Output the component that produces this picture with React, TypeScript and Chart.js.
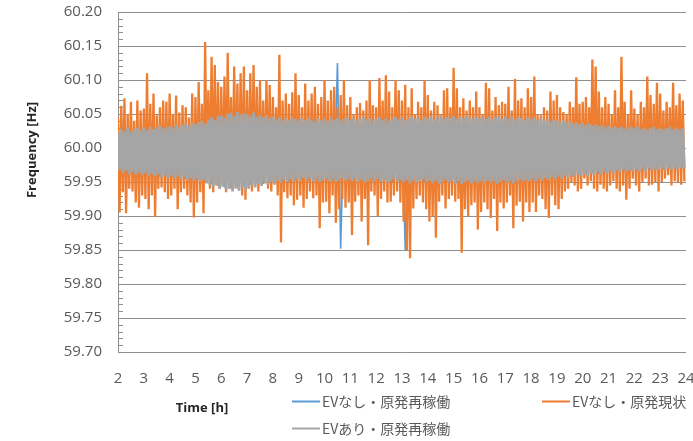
import React, { useEffect, useRef } from "react";
import { Chart, registerables } from "chart.js";

Chart.register(...registerables);

// ---- axis ranges / ticks ----
const X_MIN_H = 2;
const X_MAX_H = 24;
const X_TICK_STEP_H = 1;
const Y_MIN_HZ = 59.7;
const Y_MAX_HZ = 60.2;
const Y_TICK_STEP_HZ = 0.05;
const Y_MINOR_STEP_HZ = 0.01;

// ---- sampling of the read-off extremes ----
const ORANGE_STEP_H = 0.125; // one high + one low per step
const GRAY_STEP_H = 0.125;
const BLUE_STEP_H = 0.25;

// ---- series labels ----
const SERIES_LABELS = ["EVなし・原発再稼働", "EVなし・原発現状", "EVあり・原発再稼働"];
const SERIES_COLORS = ["#5B9BD5", "#ED7D31", "#A5A5A5"];

// ---- EVなし・原発現状 (orange) : local maxima / minima, 8 per hour from 2h ----
const orangeHigh = [
  60.045, 60.062, 60.073, 60.05, 60.068, 60.04, 60.07, 60.055,
  60.058, 60.11, 60.065, 60.08, 60.048, 60.06, 60.07, 60.068,
  60.08, 60.05, 60.077, 60.052, 60.063, 60.06, 60.045, 60.08,
  60.075, 60.097, 60.065, 60.156, 60.085, 60.134, 60.122, 60.097,
  60.09, 60.105, 60.14, 60.075, 60.12, 60.095, 60.11, 60.12,
  60.085, 60.11, 60.122, 60.09, 60.1, 60.07, 60.1, 60.093,
  60.075, 60.06, 60.137, 60.07, 60.08, 60.065, 60.082, 60.11,
  60.078, 60.06, 60.095, 60.07, 60.08, 60.09, 60.065, 60.075,
  60.1, 60.07, 60.085, 60.09, 60.06, 60.078, 60.1, 60.063,
  60.075, 60.05, 60.06, 60.066, 60.055, 60.07, 60.1, 60.063,
  60.06, 60.103, 60.07, 60.107, 60.083, 60.06, 60.1, 60.085,
  60.07, 60.093, 60.06, 60.088, 60.05, 60.068, 60.06, 60.1,
  60.078, 60.055, 60.068, 60.063, 60.05, 60.085, 60.088, 60.06,
  60.118, 60.088, 60.06, 60.073, 60.055, 60.07, 60.06, 60.083,
  60.06, 60.05, 60.096, 60.088, 60.055, 60.075, 60.063, 60.068,
  60.065, 60.09, 60.055, 60.102, 60.07, 60.073, 60.06, 60.088,
  60.075, 60.105, 60.05, 60.048, 60.06, 60.055, 60.083, 60.07,
  60.078, 60.06, 60.053, 60.05, 60.068, 60.06, 60.104, 60.065,
  60.068, 60.075, 60.06, 60.13, 60.12, 60.083, 60.06, 60.075,
  60.065, 60.05, 60.085, 60.06, 60.134, 60.068, 60.05, 60.085,
  60.058, 60.05, 60.068, 60.06, 60.105, 60.078, 60.065, 60.096,
  60.08, 60.055, 60.068, 60.06, 60.096, 60.063, 60.08, 60.07,
];
const orangeLow = [
  59.905, 59.935, 59.904, 59.94, 59.936, 59.92, 59.912, 59.93,
  59.925, 59.91, 59.93, 59.899, 59.94, 59.942, 59.935, 59.925,
  59.93, 59.94, 59.91, 59.935, 59.94, 59.93, 59.92, 59.898,
  59.92, 59.935, 59.904, 59.95, 59.94, 59.935, 59.945, 59.94,
  59.945, 59.935, 59.94, 59.945, 59.943, 59.94, 59.93, 59.924,
  59.94, 59.936, 59.945, 59.936, 59.95, 59.948, 59.94, 59.936,
  59.946, 59.93, 59.861, 59.935, 59.926, 59.93, 59.916, 59.924,
  59.93, 59.912, 59.925, 59.936, 59.926, 59.93, 59.882, 59.92,
  59.921, 59.904, 59.93, 59.89, 59.91, 59.925, 59.912, 59.92,
  59.872, 59.921, 59.93, 59.892, 59.925, 59.857, 59.936, 59.93,
  59.9, 59.925, 59.936, 59.92, 59.921, 59.93, 59.936, 59.92,
  59.892, 59.85, 59.838, 59.911, 59.925, 59.93, 59.92, 59.91,
  59.892, 59.9, 59.868, 59.921, 59.93, 59.911, 59.925, 59.93,
  59.921, 59.925, 59.846, 59.91, 59.9, 59.916, 59.92, 59.88,
  59.906, 59.92, 59.91, 59.897, 59.925, 59.878, 59.92, 59.911,
  59.92, 59.93, 59.882, 59.915, 59.921, 59.892, 59.92, 59.906,
  59.92, 59.906, 59.93, 59.925, 59.91, 59.897, 59.93, 59.916,
  59.91, 59.925, 59.936, 59.94, 59.95, 59.945, 59.936, 59.94,
  59.955, 59.945, 59.951, 59.94, 59.936, 59.946, 59.94, 59.936,
  59.945, 59.951, 59.94, 59.936, 59.945, 59.924, 59.94, 59.955,
  59.945, 59.936, 59.95, 59.955, 59.945, 59.946, 59.95, 59.936,
  59.95, 59.955, 59.96, 59.945, 59.951, 59.95, 59.946, 59.951,
];

// ---- EVあり・原発再稼働 (gray) : 8 per hour ----
const grayHigh = [
  60.022, 60.028, 60.025, 60.03, 60.024, 60.027, 60.03, 60.026,
  60.03, 60.026, 60.032, 60.028, 60.03, 60.033, 60.029, 60.031,
  60.032, 60.03, 60.035, 60.031, 60.034, 60.036, 60.033, 60.037,
  60.035, 60.038, 60.04, 60.036, 60.042, 60.045, 60.041, 60.047,
  60.048, 60.044, 60.05, 60.052, 60.047, 60.053, 60.049, 60.051,
  60.05, 60.047, 60.052, 60.046, 60.049, 60.045, 60.048, 60.044,
  60.046, 60.042, 60.045, 60.04, 60.044, 60.041, 60.045, 60.043,
  60.04, 60.044, 60.041, 60.045, 60.042, 60.039, 60.044, 60.041,
  60.043, 60.04, 60.045, 60.041, 60.044, 60.04, 60.043, 60.045,
  60.041, 60.044, 60.04, 60.043, 60.046, 60.042, 60.044, 60.04,
  60.043, 60.045, 60.041, 60.044, 60.04, 60.043, 60.046, 60.042,
  60.045, 60.041, 60.044, 60.047, 60.043, 60.045, 60.041, 60.046,
  60.044, 60.047, 60.042, 60.045, 60.048, 60.043, 60.046, 60.044,
  60.047, 60.043, 60.046, 60.044, 60.048, 60.045, 60.043, 60.046,
  60.044, 60.047, 60.043, 60.046, 60.042, 60.045, 60.047, 60.043,
  60.046, 60.043, 60.045, 60.042, 60.046, 60.044, 60.041, 60.045,
  60.043, 60.045, 60.041, 60.044, 60.04, 60.043, 60.039, 60.042,
  60.04, 60.038, 60.041, 60.037, 60.039, 60.036, 60.038, 60.035,
  60.037, 60.034, 60.036, 60.033, 60.035, 60.032, 60.034, 60.031,
  60.033, 60.03, 60.032, 60.029, 60.031, 60.028, 60.03, 60.032,
  60.029, 60.031, 60.028, 60.03, 60.027, 60.029, 60.031, 60.028,
  60.03, 60.027, 60.029, 60.031, 60.028, 60.03, 60.027, 60.029,
];
const grayLow = [
  59.968, 59.963, 59.966, 59.962, 59.965, 59.961, 59.964, 59.96,
  59.963, 59.959, 59.962, 59.958, 59.961, 59.957, 59.96, 59.956,
  59.959, 59.955, 59.958, 59.954, 59.957, 59.953, 59.956, 59.952,
  59.955, 59.951, 59.953, 59.948, 59.945, 59.942, 59.946, 59.94,
  59.943, 59.938, 59.941, 59.936, 59.94, 59.937, 59.942, 59.938,
  59.941, 59.945, 59.942, 59.947, 59.944, 59.949, 59.946, 59.95,
  59.948, 59.952, 59.949, 59.953, 59.95, 59.954, 59.951, 59.955,
  59.952, 59.956, 59.953, 59.955, 59.951, 59.954, 59.95, 59.953,
  59.955, 59.951, 59.954, 59.95, 59.953, 59.956, 59.952, 59.955,
  59.951, 59.954, 59.95, 59.953, 59.949, 59.952, 59.955, 59.951,
  59.954, 59.95, 59.953, 59.949, 59.952, 59.955, 59.951, 59.953,
  59.95, 59.953, 59.948, 59.952, 59.949, 59.951, 59.954, 59.95,
  59.952, 59.948, 59.951, 59.947, 59.95, 59.953, 59.949, 59.952,
  59.948, 59.951, 59.947, 59.95, 59.952, 59.948, 59.951, 59.949,
  59.951, 59.948, 59.952, 59.949, 59.951, 59.947, 59.95, 59.953,
  59.949, 59.952, 59.948, 59.951, 59.954, 59.95, 59.953, 59.951,
  59.954, 59.951, 59.955, 59.952, 59.956, 59.953, 59.957, 59.955,
  59.958, 59.955, 59.959, 59.956, 59.96, 59.958, 59.961, 59.959,
  59.962, 59.959, 59.963, 59.96, 59.964, 59.961, 59.965, 59.962,
  59.966, 59.963, 59.967, 59.964, 59.968, 59.965, 59.967, 59.966,
  59.968, 59.965, 59.969, 59.966, 59.97, 59.967, 59.969, 59.968,
  59.97, 59.967, 59.971, 59.968, 59.97, 59.969, 59.971, 59.97,
];

// ---- EVなし・原発再稼働 (blue) : 4 per hour ----
const blueHigh = [
  60.02, 60.025, 60.022, 60.026,
  60.028, 60.025, 60.03, 60.027,
  60.03, 60.033, 60.029, 60.032,
  60.035, 60.04, 60.038, 60.042,
  60.045, 60.042, 60.047, 60.044,
  60.043, 60.045, 60.041, 60.044,
  60.04, 60.043, 60.039, 60.042,
  60.041, 60.038, 60.042, 60.04,
  60.04, 60.043, 60.125, 60.041,
  60.042, 60.039, 60.043, 60.04,
  60.041, 60.044, 60.04, 60.042,
  60.043, 60.04, 60.044, 60.041,
  60.042, 60.045, 60.041, 60.043,
  60.044, 60.041, 60.043, 60.04,
  60.042, 60.044, 60.04, 60.043,
  60.041, 60.043, 60.04, 60.042,
  60.04, 60.042, 60.038, 60.041,
  60.037, 60.039, 60.035, 60.037,
  60.034, 60.036, 60.032, 60.034,
  60.031, 60.033, 60.03, 60.032,
  60.029, 60.031, 60.028, 60.03,
  60.028, 60.03, 60.027, 60.029,
];
const blueLow = [
  59.965, 59.962, 59.964, 59.961,
  59.96, 59.962, 59.958, 59.96,
  59.957, 59.959, 59.955, 59.957,
  59.954, 59.95, 59.947, 59.944,
  59.942, 59.94, 59.943, 59.945,
  59.946, 59.948, 59.947, 59.95,
  59.951, 59.953, 59.95, 59.952,
  59.953, 59.951, 59.954, 59.952,
  59.953, 59.951, 59.852, 59.952,
  59.95, 59.953, 59.951, 59.952,
  59.951, 59.953, 59.95, 59.952,
  59.85, 59.951, 59.953, 59.95,
  59.95, 59.952, 59.949, 59.951,
  59.949, 59.951, 59.95, 59.952,
  59.95, 59.952, 59.949, 59.951,
  59.951, 59.953, 59.95, 59.952,
  59.953, 59.955, 59.954, 59.956,
  59.957, 59.959, 59.958, 59.96,
  59.961, 59.963, 59.962, 59.964,
  59.965, 59.967, 59.966, 59.967,
  59.967, 59.969, 59.968, 59.969,
  59.969, 59.97, 59.969, 59.97,
];

// interleave read-off maxima and minima into one time series
function interleave(highs: number[], lows: number[], step: number) {
  const pts: { x: number; y: number }[] = [];
  for (let i = 0; i < highs.length; i++) {
    pts.push({ x: X_MIN_H + i * step, y: highs[i] });
    pts.push({ x: X_MIN_H + i * step + step / 2, y: lows[i] });
  }
  return pts;
}

const TICK_FONT = { family: "'Open Sans', 'DejaVu Sans', sans-serif", size: 15 };
const TEXT_COLOR = "#595959";
const GRID_COLOR = "#8f8f8f";

const decorPlugin = {
  id: "decor",
  beforeDatasetsDraw(chart: any) {
    const { ctx, chartArea, scales } = chart;
    const y = scales.y;
    ctx.save();
    ctx.strokeStyle = GRID_COLOR;
    ctx.lineWidth = 1;
    const n = Math.round((Y_MAX_HZ - Y_MIN_HZ) / Y_MINOR_STEP_HZ);
    for (let k = 0; k <= n; k++) {
      const py = Math.round(y.getPixelForValue(Y_MIN_HZ + k * Y_MINOR_STEP_HZ)) + 0.5;
      ctx.beginPath();
      ctx.moveTo(chartArea.left, py);
      ctx.lineTo(chartArea.left + 5, py);
      ctx.stroke();
    }
    ctx.restore();
  },
  afterDraw(chart: any) {
    const { ctx } = chart;
    ctx.save();
    // axis titles
    ctx.fillStyle = "#262626";
    ctx.font = "bold 13px 'Open Sans', 'DejaVu Sans', sans-serif";
    ctx.textAlign = "center";
    ctx.textBaseline = "middle";
    ctx.save();
    ctx.translate(32, 150);
    ctx.rotate(-Math.PI / 2);
    ctx.fillText("Frequency [Hz]", 0, 0);
    ctx.restore();
    ctx.fillText("Time [h]", 202, 408);

    // legend
    const items = [
      { lx: 292, ly: 401 },
      { lx: 542, ly: 401 },
      { lx: 292, ly: 428 },
    ];
    ctx.font = "14px 'Noto Sans CJK JP', sans-serif";
    ctx.textAlign = "left";
    items.forEach((it, i) => {
      ctx.strokeStyle = SERIES_COLORS[i];
      ctx.lineWidth = 2;
      ctx.beginPath();
      ctx.moveTo(it.lx, it.ly + 0.5);
      ctx.lineTo(it.lx + 28, it.ly + 0.5);
      ctx.stroke();
      ctx.fillStyle = TEXT_COLOR;
      ctx.fillText(SERIES_LABELS[i], it.lx + 30, it.ly + 1);
    });
    ctx.restore();
  },
};

export default function App() {
  const canvasRef = useRef<HTMLCanvasElement | null>(null);

  useEffect(() => {
    if (!canvasRef.current) return;
    const chart = new Chart(canvasRef.current, {
      type: "line",
      data: {
        datasets: [
          {
            label: SERIES_LABELS[0],
            data: interleave(blueHigh, blueLow, BLUE_STEP_H),
            borderColor: SERIES_COLORS[0],
            borderWidth: 1.6,
            pointRadius: 0,
            tension: 0,
            order: 3,
          },
          {
            label: SERIES_LABELS[1],
            data: interleave(orangeHigh, orangeLow, ORANGE_STEP_H),
            borderColor: SERIES_COLORS[1],
            borderWidth: 2.3,
            pointRadius: 0,
            tension: 0,
            order: 2,
          },
          {
            label: SERIES_LABELS[2],
            data: interleave(grayHigh, grayLow, GRAY_STEP_H),
            borderColor: SERIES_COLORS[2],
            borderWidth: 2.8,
            pointRadius: 0,
            tension: 0,
            order: 1,
          },
        ],
      },
      options: {
        animation: false,
        responsive: false,
        devicePixelRatio: 1,
        layout: { padding: { top: 12, right: 7, bottom: 0, left: 0 } },
        plugins: { legend: { display: false }, tooltip: { enabled: false } },
        scales: {
          x: {
            type: "linear",
            min: X_MIN_H,
            max: X_MAX_H,
            ticks: {
              stepSize: X_TICK_STEP_H,
              autoSkip: false,
              maxRotation: 0,
              font: TICK_FONT,
              color: TEXT_COLOR,
              padding: 18,
            },
            grid: { display: false, drawTicks: false },
            border: { display: false },
            afterFit: (s: any) => {
              s.height = 89;
              s.paddingLeft = 0;
              s.paddingRight = 0;
            },
          },
          y: {
            min: Y_MIN_HZ,
            max: Y_MAX_HZ,
            ticks: {
              stepSize: Y_TICK_STEP_HZ,
              font: TICK_FONT,
              color: TEXT_COLOR,
              padding: 16,
              callback: (v: any) => Number(v).toFixed(2),
            },
            grid: { color: GRID_COLOR, lineWidth: 1, drawTicks: false },
            border: { display: true, color: GRID_COLOR, width: 1 },
            afterFit: (s: any) => {
              s.width = 118;
              s.paddingTop = 0;
              s.paddingBottom = 0;
            },
          },
        },
      },
      plugins: [decorPlugin],
    });
    return () => chart.destroy();
  }, []);

  return (
    <div style={{ position: "fixed", left: 0, top: 0, width: 693, height: 441, background: "#fff" }}>
      <canvas ref={canvasRef} width={693} height={441} style={{ display: "block" }} />
    </div>
  );
}
